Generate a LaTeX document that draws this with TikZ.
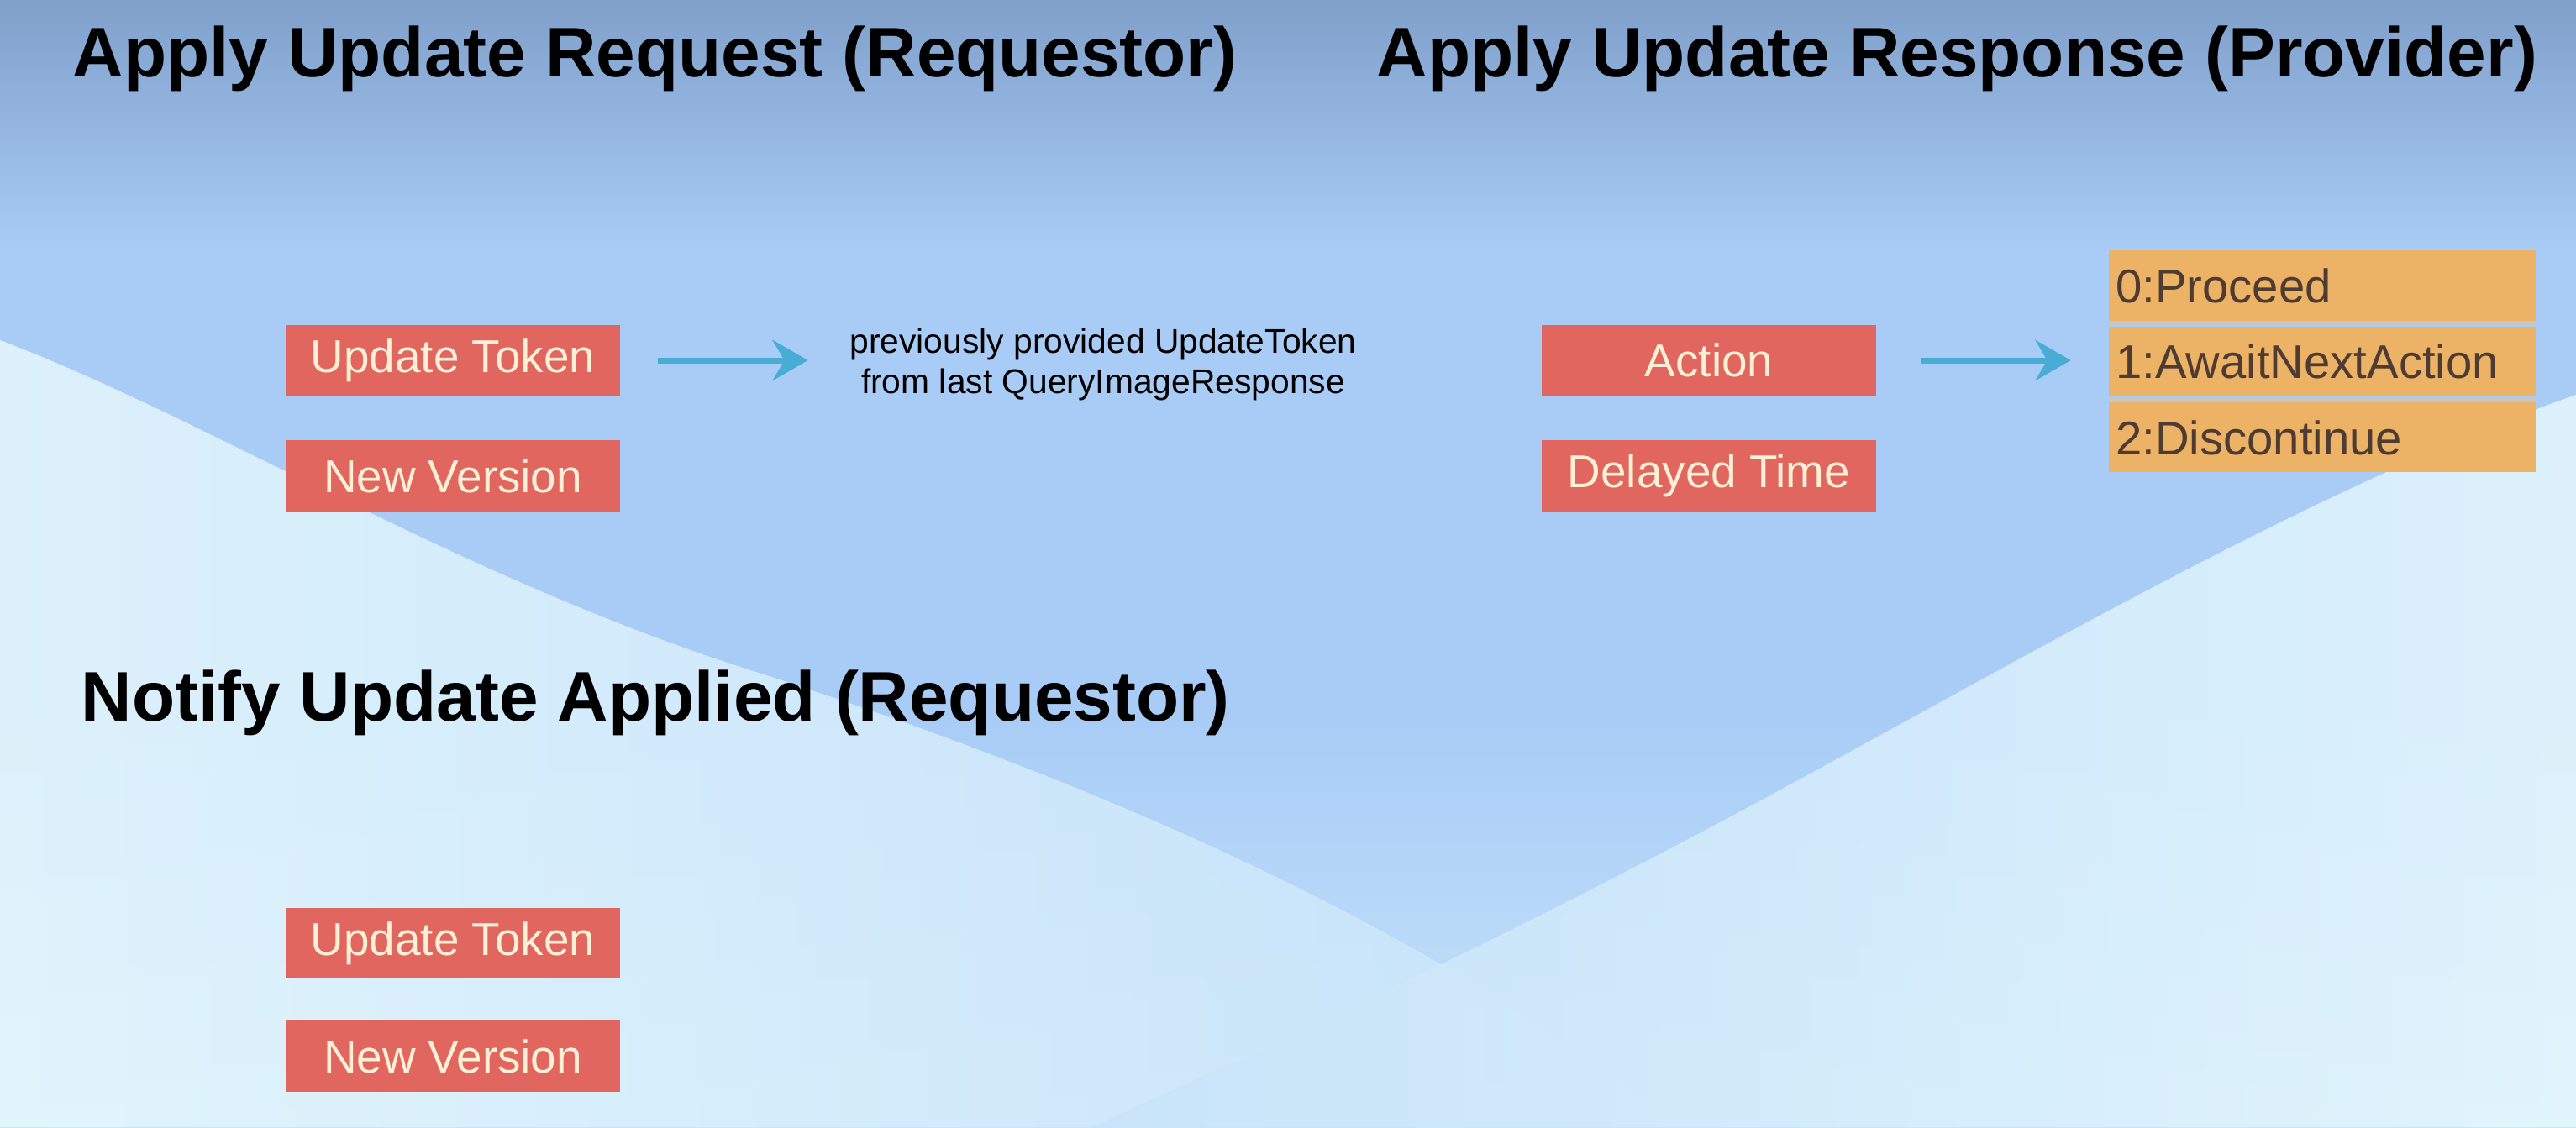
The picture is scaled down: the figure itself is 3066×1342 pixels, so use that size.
\documentclass[tikz,border=0pt]{standalone}
\usepackage{fontspec}
\setmainfont{Liberation Sans}
\usetikzlibrary{arrows.meta, positioning}
\definecolor{skytop}{RGB}{128,160,202}
\definecolor{skyblue}{RGB}{168,204,246}
\definecolor{skylight}{RGB}{230,248,253}
\definecolor{skypale}{RGB}{200,228,250}
\definecolor{fieldred}{RGB}{226,102,96}
\definecolor{fieldtext}{RGB}{253,240,212}
\definecolor{optorange}{RGB}{236,178,102}
\definecolor{opttext}{RGB}{78,60,50}
\definecolor{optgap}{RGB}{200,198,196}
\definecolor{flowcyan}{RGB}{72,172,212}

\begin{document}
\begin{tikzpicture}[x=0.01cm, y=-0.01cm,
  title/.style={anchor=base west, inner sep=0pt,
                font=\fontsize{23.8}{28}\selectfont\bfseries},
  field/.style={rectangle, fill=fieldred, text=fieldtext,
                minimum width=3.97cm, minimum height=0.84cm, inner sep=0pt,
                font=\fontsize{15.6}{18}\selectfont},
  option/.style={rectangle, fill=optorange, text=opttext,
                 text width=4.91cm, inner xsep=0.08cm, inner ysep=0pt,
                 minimum height=0.83cm, align=left,
                 font=\fontsize{16}{19}\selectfont},
  note/.style={inner sep=0pt, align=center, font=\fontsize{11.6}{13.9}\selectfont},
  arr/.style={-{Stealth[length=0.42cm, width=0.48cm, inset=0.14cm]},
              line width=0.07cm, flowcyan},
  node distance=0.52cm
]
%% Background
\useasboundingbox (0,0) rectangle (3066,1342);
\fill[skyblue] (0,0) rectangle (3066,1342);
\shade[top color=skytop, bottom color=skyblue] (0,0) rectangle (3066,300);
\shade[top color=skyblue, bottom color=skypale] (0,850) rectangle (3066,1342);
\shade[left color=skylight, right color=skypale, opacity=0.85]
  (0,405) .. controls (250,500) and (550,690) .. (900,800)
  .. controls (1300,930) and (1700,1100) .. (2000,1342) -- (0,1342) -- cycle;
\shade[left color=skypale, right color=skylight, opacity=0.85]
  (3066,470) .. controls (2700,600) and (2300,850) .. (1950,1030)
  .. controls (1700,1160) and (1500,1250) .. (1300,1342) -- (3066,1342) -- cycle;

%% Apply Update Request
\node[title] (reqtitle) at (86,91) {Apply Update Request (Requestor)};
\node[field] (reqtoken) at (539,429) {Update Token};
\node[field, below=of reqtoken] (reqversion) {New Version};
\node[note] (reqnote) at (1313,434) {previously provided UpdateToken\\from last QueryImageResponse};
\draw[arr, shorten <=0.45cm, shorten >=0.49cm] (reqtoken.east) -- (reqtoken.east -| reqnote.west);

%% Apply Update Response
\node[title] (resptitle) at (1638,91) {Apply Update Response (Provider)};
\node[field] (action) at (2034,429) {Action};
\node[field, below=of action] (delay) {Delayed Time};
\node[option] (proceed) at (2764,340) {0:Proceed};
\node[option, below=0.06cm of proceed] (await) {1:AwaitNextAction};
\node[option, below=0.06cm of await] (discontinue) {2:Discontinue};
\fill[optgap] (proceed.south west) rectangle (await.north east);
\fill[optgap] (await.south west) rectangle (discontinue.north east);
\draw[arr, shorten <=0.53cm, shorten >=0.45cm] (action.east) -- (action.east -| await.west);

%% Notify Update Applied
\node[title] (notetitle) at (96,858) {Notify Update Applied (Requestor)};
\node[field] (nottoken) at (539,1123) {Update Token};
\node[field, below=0.49cm of nottoken] (notversion) {New Version};
\end{tikzpicture}
\end{document}
